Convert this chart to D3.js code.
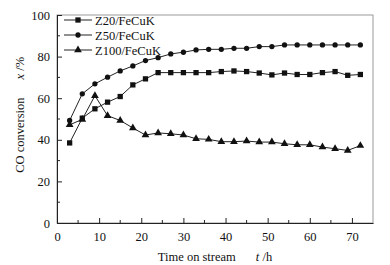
<!DOCTYPE html>
<html>
<head>
<meta charset="utf-8">
<script src="https://cdn.jsdelivr.net/npm/d3@7"></script>
<style>
  body { margin: 0; background: #fff; }
  text { font-family: "Liberation Serif", "Times New Roman", serif; fill: #111; }
</style>
</head>
<body>
<div id="chart"></div>
<script>
const hours = [3, 6, 9, 12, 15, 18, 21, 24, 27, 30, 33, 36, 39, 42, 45, 48, 51, 54, 57, 60, 63, 66, 69, 72];
const z20 = [38.5, 50.4, 54.9, 58.1, 60.8, 66.4, 69.3, 72.3, 72.3, 72.3, 72.3, 72.3, 72.8, 73.1, 72.8, 72.1, 71.2, 72.1, 71.4, 71.4, 72.3, 72.8, 71.0, 71.4];
const z50 = [49.3, 62.1, 66.9, 70.1, 73.1, 75.5, 78.1, 79.5, 81.3, 82.1, 83.2, 83.5, 83.5, 84.0, 84.0, 84.8, 84.8, 85.6, 85.6, 85.6, 85.6, 85.6, 85.6, 85.6];
const z100 = [47.2, 49.8, 61.2, 51.6, 49.3, 45.7, 42.3, 43.3, 42.9, 42.3, 40.5, 40.2, 39.1, 39.1, 39.4, 38.9, 38.9, 38.1, 37.6, 37.6, 36.5, 35.7, 34.9, 37.2];
const seriesNames = ["Z20/FeCuK", "Z50/FeCuK", "Z100/FeCuK"];
const xTicks = [0, 10, 20, 30, 40, 50, 60, 70];
const yTicks = [0, 20, 40, 60, 80, 100];

const margin = { top: 15, right: 17, bottom: 42, left: 57 },
  width = 390 - margin.left - margin.right,
  height = 265 - margin.top - margin.bottom;

const svg = d3
  .select("#chart")
  .append("svg")
  .attr("width", 390)
  .attr("height", 265)
  .append("g")
  .attr("transform", `translate(${margin.left}, ${margin.top})`);

const x = d3.scaleLinear().domain([0, 75]).range([0, width]);
const y = d3.scaleLinear().domain([0, 100]).range([height, 0]);

// frame
svg
  .append("rect")
  .attr("width", width)
  .attr("height", height)
  .attr("fill", "none")
  .attr("stroke", "#999")
  .attr("stroke-width", 1);

// x axis, ticks pointing inward
const xAxis = svg.append("g").attr("transform", `translate(0, ${height})`);
xAxis.call(d3.axisBottom(x).tickValues(xTicks).tickSizeInner(-5).tickSizeOuter(0).tickPadding(9));
xAxis
  .selectAll(".minor")
  .data(d3.range(5, 75, 10))
  .join("line")
  .attr("class", "minor")
  .attr("x1", (d) => x(d))
  .attr("x2", (d) => x(d))
  .attr("y1", 0)
  .attr("y2", -3)
  .attr("stroke", "#222");

const yAxis = svg.append("g");
yAxis.call(d3.axisLeft(y).tickValues(yTicks).tickSizeInner(-5).tickSizeOuter(0).tickPadding(7));
yAxis
  .selectAll(".minor")
  .data(d3.range(10, 100, 20))
  .join("line")
  .attr("class", "minor")
  .attr("y1", (d) => y(d))
  .attr("y2", (d) => y(d))
  .attr("x1", 0)
  .attr("x2", 3)
  .attr("stroke", "#222");

svg.selectAll(".domain").attr("stroke", "#222");
svg.selectAll(".tick line").attr("stroke", "#222");
svg.selectAll(".tick text").attr("font-size", 12.5).attr("font-family", "Liberation Serif").attr("fill", "#111");

// axis titles
const xt = svg
  .append("text")
  .attr("x", x(37.5))
  .attr("y", height + 38)
  .attr("text-anchor", "middle")
  .attr("font-size", 12.5);
xt.append("tspan").text("Time on stream");
xt.append("tspan").attr("dx", 20).attr("font-style", "italic").text("t");
xt.append("tspan").text(" /h");

const yt = svg
  .append("text")
  .attr("transform", "rotate(-90)")
  .attr("x", -y(52))
  .attr("y", -33)
  .attr("text-anchor", "middle")
  .attr("font-size", 12.5);
yt.append("tspan").text("CO conversion");
yt.append("tspan").attr("dx", 18).attr("font-style", "italic").text("x");
yt.append("tspan").text(" /%");

const series = [z20, z50, z100];
const line = d3
  .line()
  .x((d, i) => x(hours[i]))
  .y((d) => y(d));

const symbols = [d3.symbolSquare, d3.symbolCircle, d3.symbolTriangle];
const sizes = [28, 22, 26];

series.forEach(function (vals, k) {
  svg
    .append("path")
    .datum(vals)
    .attr("fill", "none")
    .attr("stroke", "#222")
    .attr("stroke-width", 1)
    .attr("d", line);
  svg
    .append("g")
    .selectAll("path")
    .data(vals)
    .join("path")
    .attr("transform", (d, i) => `translate(${x(hours[i])}, ${y(d)})`)
    .attr("d", d3.symbol().type(symbols[k]).size(sizes[k]))
    .attr("fill", "#111");
});

// legend
const legend = svg.append("g").attr("transform", "translate(7, 5)");
seriesNames.forEach(function (name, k) {
  const row = legend.append("g").attr("transform", `translate(0, ${k * 15})`);
  row.append("line").attr("x1", 0).attr("x2", 28).attr("stroke", "#222");
  row
    .append("path")
    .attr("transform", "translate(14, 0)")
    .attr("d", d3.symbol().type(symbols[k]).size(sizes[k]))
    .attr("fill", "#111");
  row
    .append("text")
    .attr("x", 31)
    .attr("y", 4.5)
    .attr("font-size", 12.5)
    .text(name);
});
</script>
</body>
</html>
